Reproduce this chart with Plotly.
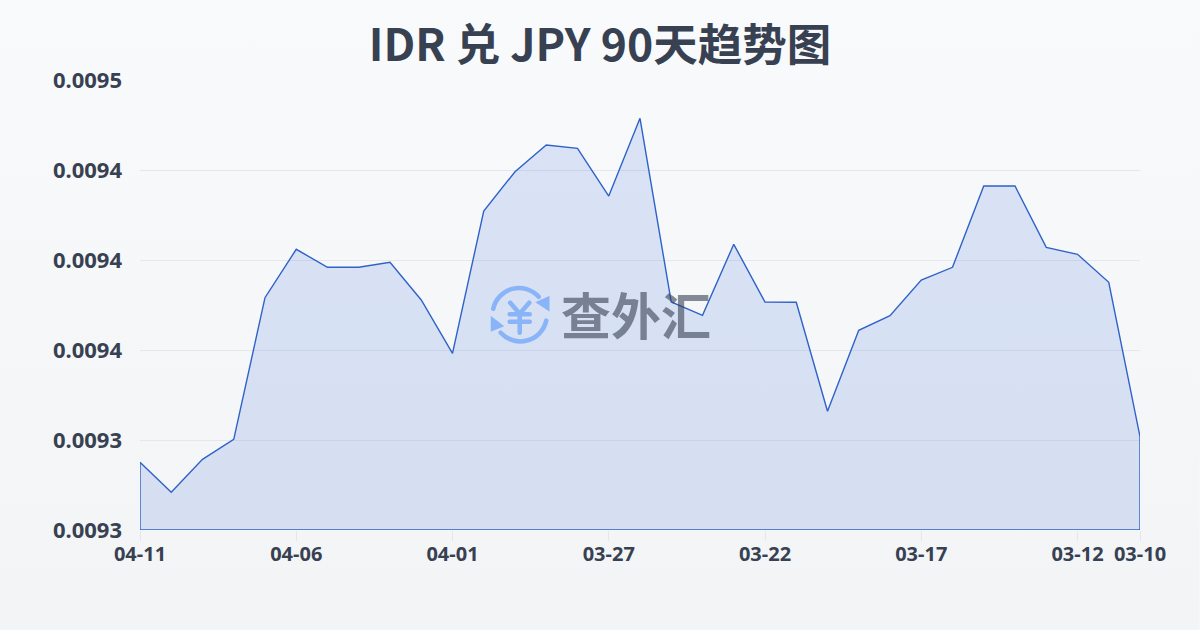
import base64
import plotly.graph_objects as go

TITLE = "IDR 兑 JPY 90天趋势图"
WATERMARK = "查外汇"

dates = [
    "04-11", "04-10", "04-09", "04-08", "04-07", "04-06", "04-05", "04-04", "04-03", "04-02", "04-01",
    "03-31", "03-30", "03-29", "03-28", "03-27", "03-26", "03-25", "03-24", "03-23", "03-22",
    "03-21", "03-20", "03-19", "03-18", "03-17", "03-16", "03-15", "03-14", "03-13", "03-12", "03-11", "03-10",
]
rates = [
    0.00931009, 0.00929676, 0.00931142, 0.00932031, 0.00938324, 0.00940476, 0.00939676, 0.00939676,
    0.00939898, 0.00938222, 0.00935853, 0.00942178, 0.00943924, 0.00945111, 0.00944964, 0.00942844,
    0.00946298, 0.00938133, 0.00937542, 0.00940698, 0.00938133, 0.00938120, 0.00933276, 0.00936876,
    0.00937524, 0.00939111, 0.00939676, 0.00943289, 0.00943289, 0.00940564, 0.00940253, 0.00939009,
    0.00932147,
]
x_ticks = ["04-11", "04-06", "04-01", "03-27", "03-22", "03-17", "03-12", "03-10"]
y_ticks = [0.00928, 0.00932, 0.00936, 0.00940, 0.00944, 0.00948]
y_labels = ["0.0093", "0.0093", "0.0094", "0.0094", "0.0094", "0.0095"]

INK = "#374151"
LINE = "#2f62c8"
TITLE_FONT = "'Noto Sans CJK SC', 'Noto Sans', sans-serif"
TICK_FONT = "'Noto Sans', 'Noto Sans CJK SC', sans-serif"

W, H = 1200, 630
L, R, T, B = 140.2, 59.6, 80.3, 99.7
PW, PH = W - L - R, H - T - B


def svg_uri(svg):
    return "data:image/svg+xml;base64," + base64.b64encode(svg.encode()).decode()


bg_svg = (
    f'<svg xmlns="http://www.w3.org/2000/svg" width="{W}" height="{H}" preserveAspectRatio="none">'
    '<defs><linearGradient id="g" x1="0" y1="0" x2="0" y2="1">'
    '<stop offset="0" stop-color="#f8fafc"/><stop offset="1" stop-color="#f3f4f6"/>'
    '</linearGradient></defs>'
    f'<rect width="{W}" height="{H}" fill="url(#g)"/></svg>'
)

icon_svg = (
    '<svg xmlns="http://www.w3.org/2000/svg" width="60" height="60" viewBox="0 0 60 60">'
    '<g fill="none" stroke="#8ab4f8" stroke-width="4.6" stroke-linecap="round" stroke-linejoin="round">'
    '<path d="M3.5 24 A 26.5 26.5 0 0 1 49 12"/>'
    '<path d="M56.5 36 A 26.5 26.5 0 0 1 11 48"/>'
    '<path d="M20.5 18 L30 29 L39.5 18"/>'
    '<path d="M20 29.5 H40 M20 37 H40 M30 29 V48"/>'
    '</g>'
    '<path d="M60 11 L60 27 L45.5 17.5 Z" fill="#8ab4f8"/>'
    '<path d="M1 31 L1 47 L14.5 41.5 Z" fill="#8ab4f8"/>'
    '</svg>'
)

base = y_ticks[0]
fig = go.Figure()
fig.add_trace(go.Scatter(
    x=dates + [dates[-1], dates[0], dates[0]],
    y=rates + [base, base, rates[0]],
    mode="lines",
    fill="toself",
    fillcolor="rgba(45,100,215,0.15)",
    line=dict(color=LINE, width=1.4),
    hoverinfo="skip",
    showlegend=False,
))

fig.update_layout(
    width=W,
    height=H,
    margin=dict(l=L, r=R, t=T, b=B, pad=0),
    paper_bgcolor="#f6f8fa",
    plot_bgcolor="rgba(0,0,0,0)",
    showlegend=False,
    title=dict(
        text=TITLE,
        x=0.5, xanchor="center", xref="container",
        y=1 - 45 / H, yanchor="middle", yref="container",
        font=dict(family=TITLE_FONT, size=44.5, color=INK, weight=700),
    ),
    xaxis=dict(
        type="category",
        categoryorder="array",
        categoryarray=dates,
        range=[0, len(dates) - 1],
        tickmode="array",
        tickvals=x_ticks,
        ticktext=x_ticks,
        ticks="outside",
        ticklen=10,
        tickwidth=1,
        tickcolor="#e5e7eb",
        ticklabelstandoff=-4,
        showgrid=False,
        showline=False,
        zeroline=False,
        tickangle=0,
        tickfont=dict(family=TICK_FONT, size=20, color=INK, weight=700),
    ),
    yaxis=dict(
        range=[y_ticks[0], y_ticks[-1]],
        tickmode="array",
        tickvals=y_ticks,
        ticktext=y_labels,
        ticks="",
        ticklabelstandoff=17,
        showgrid=True,
        gridcolor="#e5e7eb",
        gridwidth=1,
        showline=False,
        zeroline=False,
        tickfont=dict(family=TICK_FONT, size=22, color=INK, weight=700),
    ),
    images=[
        dict(
            source=svg_uri(bg_svg), xref="paper", yref="paper",
            x=-L / PW, y=(PH + T) / PH, sizex=W / PW, sizey=H / PH,
            xanchor="left", yanchor="top", sizing="stretch", layer="below",
        ),
        dict(
            source=svg_uri(icon_svg), xref="paper", yref="paper",
            x=(490 - L) / PW, y=(H - B - 285) / PH, sizex=60 / PW, sizey=60 / PH,
            xanchor="left", yanchor="top", sizing="stretch", layer="above",
        ),
    ],
    annotations=[
        dict(
            text=WATERMARK, xref="paper", yref="paper",
            x=(636 - L) / PW, y=(H - B - 313) / PH,
            xanchor="center", yanchor="middle", showarrow=False,
            font=dict(family="'Noto Sans CJK SC', sans-serif", size=50, color="rgba(55,65,81,0.6)", weight=700),
        ),
    ],
)

fig.write_html("out.html", config={"displayModeBar": False}, post_script="document.body.style.margin='0';")
